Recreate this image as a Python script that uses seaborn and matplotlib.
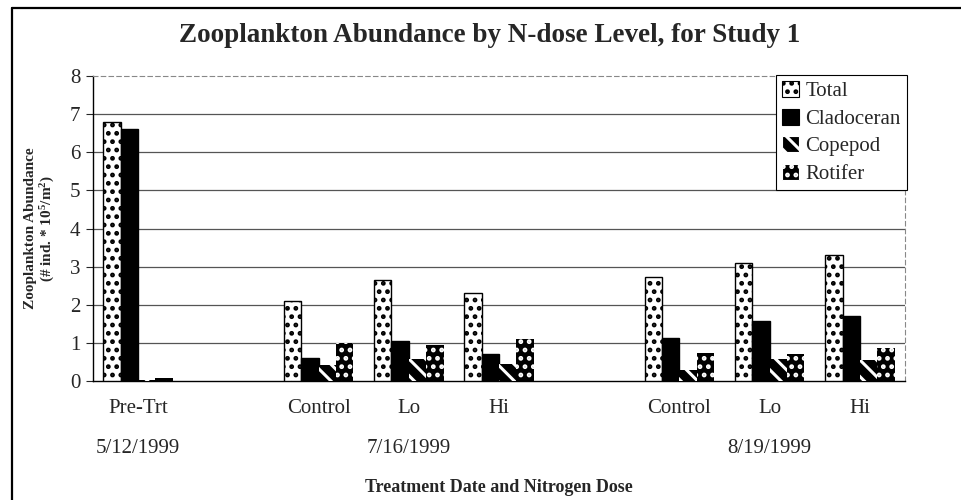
import numpy as np
import pandas as pd
import matplotlib.pyplot as plt
import seaborn as sns
from matplotlib.lines import Line2D
from matplotlib.patches import Patch

# ------------------------------------------
# DATA
# ------------------------------------------
slots = ['pre', 'gap1', 'c1', 'lo1', 'hi1', 'gap2', 'c2', 'lo2', 'hi2']
tick_labels = ['Pre-Trt', '', 'Control', 'Lo', 'Hi', '', 'Control', 'Lo', 'Hi']
bar_slots = ['pre', 'c1', 'lo1', 'hi1', 'c2', 'lo2', 'hi2']
groups = ['Total', 'Cladoceran', 'Copepod', 'Rotifer']

total = [6.80, 2.10, 2.64, 2.31, 2.73, 3.10, 3.30]
cladoceran = [6.60, 0.61, 1.05, 0.70, 1.14, 1.57, 1.70]
copepod = [0.03, 0.42, 0.57, 0.44, 0.29, 0.57, 0.55]
rotifer = [0.08, 0.99, 0.94, 1.09, 0.74, 0.70, 0.86]

dates = ['5/12/1999', '7/16/1999', '8/19/1999']
date_slots = ['pre', 'lo1', 'lo2']

df = pd.DataFrame({
    'slot': bar_slots * 4,
    'group': np.repeat(groups, len(bar_slots)),
    'value': total + cladoceran + copepod + rotifer,
})

# fill / hatch per series: (face, hatch colour, hatch, linewidth)
styles = {
    'Total': ('white', 'black', '..', 1.0),
    'Cladoceran': ('black', 'black', '', 1.0),
    'Copepod': ('black', 'white', '\\\\', 0.0),
    'Rotifer': ('black', 'white', '..', 0.0),
}

# ------------------------------------------
# PLOT
# ------------------------------------------
sns.set_style('white')
plt.rcParams['font.family'] = ['Liberation Serif', 'DejaVu Serif']
plt.rcParams['mathtext.fontset'] = 'custom'
plt.rcParams['mathtext.rm'] = 'Liberation Serif'
plt.rcParams['mathtext.bf'] = 'Liberation Serif:bold'
plt.rcParams['mathtext.default'] = 'bf'
plt.rcParams['hatch.linewidth'] = 2.2

fig = plt.figure(figsize=(9.61, 5.0), dpi=100)
ax = fig.add_axes([93 / 961, 1 - 381 / 500, 812 / 961, 305 / 500])

sns.barplot(data=df, x='slot', y='value', hue='group', order=slots,
            hue_order=groups, width=0.77, color='black', legend=False,
            ax=ax, zorder=3)

for cont, name in zip(ax.containers, groups):
    face, hcol, hatch, lw = styles[name]
    for bar in cont:
        bar.set_facecolor(face)
        bar.set_edgecolor(hcol)
        bar.set_hatch(hatch)
        bar.set_linewidth(lw)

ax.set_xlim(-0.5, 8.5)
ax.set_ylim(0, 8)
ax.set_yticks(range(0, 9))
ax.set_xticks(range(len(slots)))
ax.set_xticklabels(tick_labels, fontsize=15)
ax.tick_params(axis='x', length=0, pad=13)
ax.tick_params(axis='y', labelsize=15, length=5, width=0.8, direction='out',
               left=True, pad=4)
for y in range(1, 8):
    ax.axhline(y, color='#555555', lw=0.9, zorder=1)

for side in ['left', 'bottom']:
    ax.spines[side].set_color('black')
    ax.spines[side].set_linewidth(1.0)
for side in ['top', 'right']:
    ax.spines[side].set_color('#888888')
    ax.spines[side].set_linewidth(0.8)
    ax.spines[side].set_linestyle((0, (4, 3)))

ax.set_xlabel('')
ax.set_ylabel('Zooplankton Abundance\n(# ind. * 10$^5$/m$^2$)',
              fontsize=11, fontweight='bold', labelpad=9)

# date row and axis title
for d, s in zip(dates, date_slots):
    ax.text(slots.index(s), -0.22, d, transform=ax.get_xaxis_transform(),
            ha='center', va='center', fontsize=15)
ax.text(0.5, -0.348, 'Treatment Date and Nitrogen Dose',
        transform=ax.transAxes, ha='center', va='center',
        fontsize=13, fontweight='bold')

fig.text(490 / 961, 1 - 36 / 500,
         'Zooplankton Abundance by N-dose Level, for Study 1',
         ha='center', va='center', fontsize=19.5, fontweight='bold')

# legend
handles = [Patch(facecolor=styles[g][0], edgecolor=styles[g][1],
                 hatch=styles[g][2], linewidth=0.8) for g in groups]
leg = fig.legend(handles, groups, loc='upper right',
                 bbox_to_anchor=(907 / 961, 1 - 75 / 500), fontsize=15,
                 frameon=True, fancybox=False, framealpha=1,
                 handlelength=0.8, handleheight=0.8, handletextpad=0.3,
                 labelspacing=0.35, borderpad=0.3, borderaxespad=0)
leg.get_frame().set_edgecolor('black')
leg.get_frame().set_linewidth(0.8)

# outer frame (left and top edge of the scanned box)
fig.add_artist(Line2D([12 / 961, 12 / 961], [0, 1 - 8 / 500],
                      transform=fig.transFigure, color='black', lw=1.6))
fig.add_artist(Line2D([12 / 961, 1], [1 - 8 / 500, 1 - 8 / 500],
                      transform=fig.transFigure, color='black', lw=1.6))

fig.savefig('out.png', dpi=100)
